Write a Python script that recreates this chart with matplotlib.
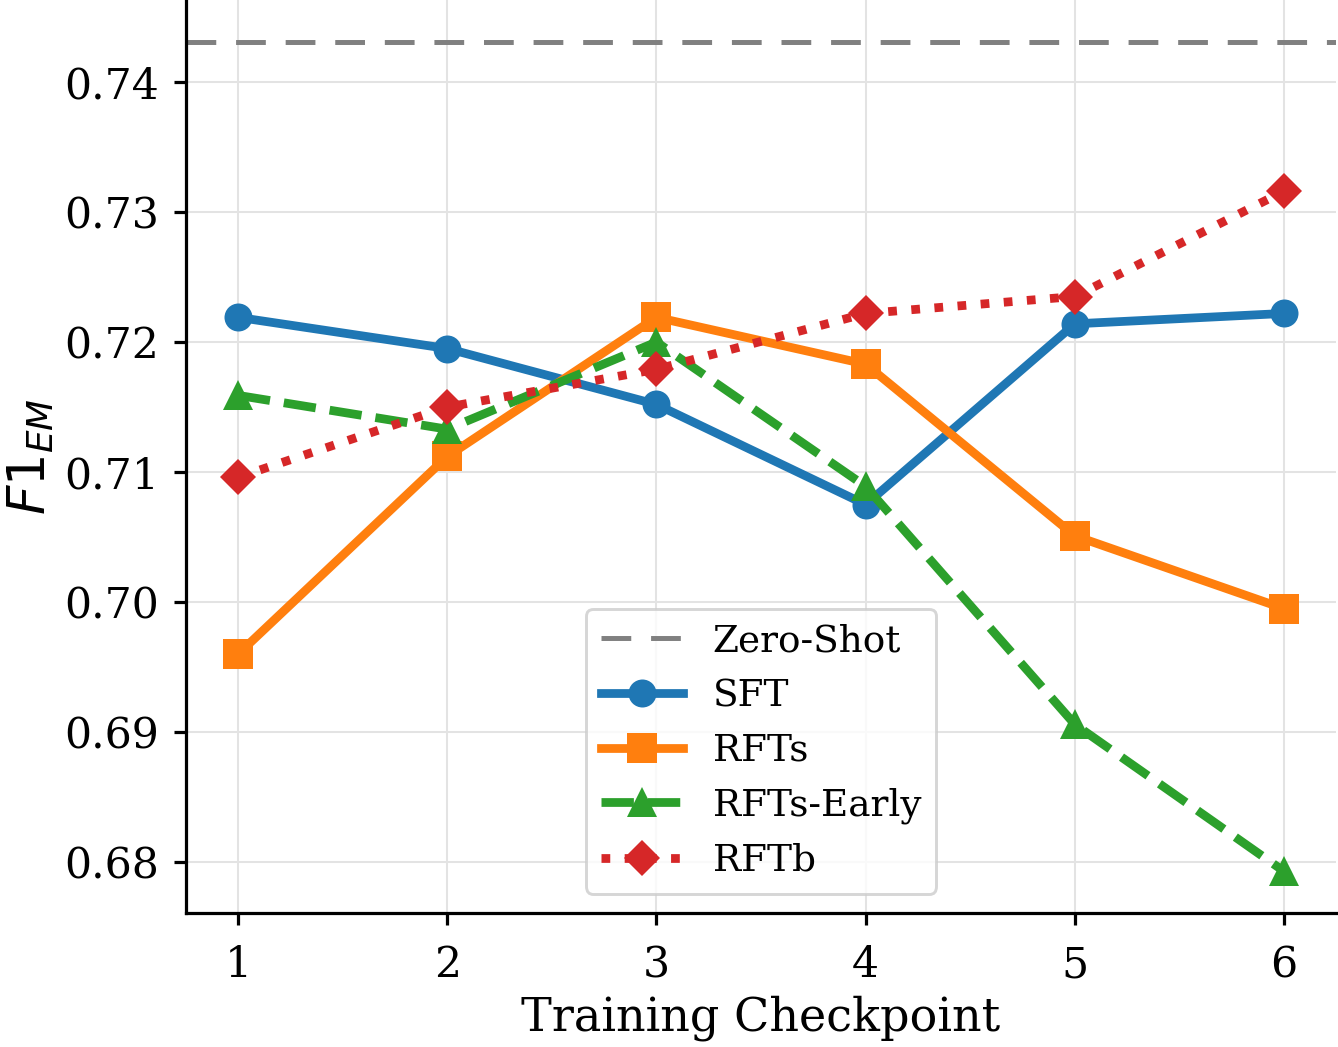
import matplotlib
matplotlib.use("Agg")
import matplotlib.pyplot as plt

# data
checkpoints = [1, 2, 3, 4, 5, 6]
zero_shot = 0.7431
sft = [0.7219, 0.7195, 0.7152, 0.7075, 0.7214, 0.7222]
rfts = [0.6960, 0.7112, 0.7219, 0.7183, 0.7051, 0.6995]
rfts_early = [0.7159, 0.7133, 0.7200, 0.7089, 0.6906, 0.6793]
rftb = [0.7096, 0.7150, 0.7179, 0.7222, 0.7235, 0.7316]

S = 2.1  # scale of the original figure
plt.rcParams['font.family'] = ['DejaVu Serif']
plt.rcParams['mathtext.fontset'] = 'dejavusans'

fig = plt.figure(figsize=(13.38, 10.47), dpi=100)
ax = fig.add_axes([0.1388, 0.128, 0.860, 0.872])

ax.axhline(zero_shot, color='gray', lw=1.7 * S, linestyle=(0, (6, 4)), label='Zero-Shot')
ax.plot(checkpoints, sft, marker='o', color='#1f77b4', lw=3 * S, ms=9.6 * S, mew=0, label='SFT')
ax.plot(checkpoints, rfts, marker='s', color='#ff7f0e', lw=3 * S, ms=10.3 * S, mew=0, label='RFTs')
ax.plot(checkpoints, rfts_early, marker='^', color='#2ca02c', lw=3 * S, ms=10.6 * S, mew=0,
        linestyle='--', label='RFTs-Early')
ax.plot(checkpoints, rftb, marker='D', color='#d62728', lw=3 * S, ms=8.5 * S, mew=0,
        linestyle=':', label='RFTb')

ax.set_xlim(0.75, 6.25)
ax.set_ylim(0.6761, 0.7463)
ax.set_xticks(checkpoints)
ax.set_yticks([0.68, 0.69, 0.70, 0.71, 0.72, 0.73, 0.74])
ax.set_yticklabels(['0.68', '0.69', '0.70', '0.71', '0.72', '0.73', '0.74'])

ax.grid(True, color='#e3e3e3', lw=0.7 * S)
ax.set_axisbelow(True)
ax.spines['top'].set_visible(False)
ax.spines['right'].set_visible(False)
for s in ['left', 'bottom']:
    ax.spines[s].set_linewidth(1.1 * S)
ax.tick_params(labelsize=14.6 * S, length=4.2 * S, width=1.1 * S)
ax.tick_params(axis='y', pad=5 * S)
ax.tick_params(axis='x', pad=6.6 * S)

ax.set_xlabel('Training Checkpoint', fontsize=15.8 * S, labelpad=3 * S)
ax.set_ylabel(r'$F1_{EM}$', fontsize=17.5 * S, labelpad=2.5 * S)

leg = ax.legend(loc='lower center', fontsize=12.8 * S, handlelength=2.2, borderaxespad=0.52)
leg.get_frame().set_linewidth(1.0 * S)
leg.get_frame().set_edgecolor('#cccccc')

fig.savefig('out.png', dpi=100)
